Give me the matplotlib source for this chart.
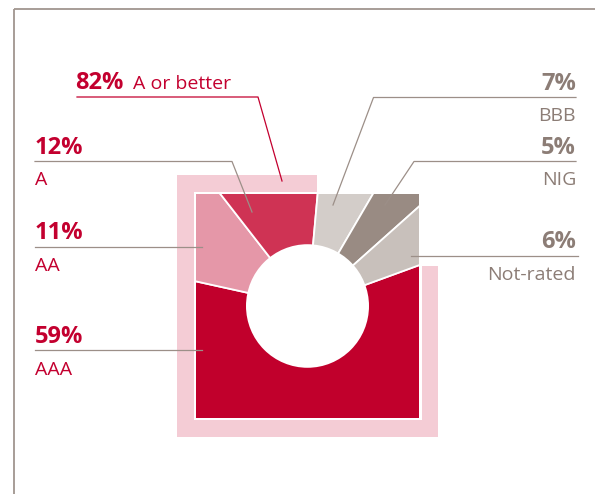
import numpy as np
import matplotlib
matplotlib.use("Agg")
import matplotlib.pyplot as plt
from matplotlib.patches import Polygon, Rectangle, Circle

# Daten: Rating-Verteilung
ratings = ["AAA", "AA", "A", "BBB", "NIG", "Not-rated"]
shares = [59, 11, 12, 7, 5, 6]
colors = ["#C1002C", "#E597A8", "#CF3354", "#D3CDC9", "#998B83", "#C8C0BB"]

group_label = "A or better"
group_share = 82

RED = "#C3002F"
GREY = "#8C7D76"
LINE_GREY = "#9C8F88"
PINK = "#F4CCD5"

W, H = 595, 494
fig = plt.figure(figsize=(W / 100, H / 100), dpi=100)

# Hintergrund-Achse in Pixelkoordinaten
ax0 = fig.add_axes([0, 0, 1, 1])
ax0.set_xlim(0, W)
ax0.set_ylim(H, 0)
ax0.axis("off")

# L-foermige rosa Flaeche hinter "A or better"
ax0.add_patch(Polygon([(177, 175), (317, 175), (317, 266), (438, 266),
                       (438, 437), (177, 437)], closed=True,
                      facecolor=PINK, edgecolor="none"))
ax0.add_patch(Rectangle((193.5, 191.5), 228, 228, facecolor="white",
                        edgecolor="none"))

# Rahmenlinien
ax0.plot([14, 14], [9, H], color="#A0958F", lw=1.3, solid_capstyle="butt")
ax0.plot([14, W], [9, 9], color="#A0958F", lw=1.3, solid_capstyle="butt")

# Quadratischer "Kuchen"
x0, x1, y0, y1 = 196, 419, 194, 418
axp = fig.add_axes([x0 / W, 1 - y1 / H, (x1 - x0) / W, (y1 - y0) / H])
wedges, _ = axp.pie(shares, colors=colors, startangle=20, counterclock=False,
                    radius=1.6, wedgeprops=dict(edgecolor="white", linewidth=1.3))
axp.set_xlim(-1, 1)
axp.set_ylim(-1, 1)
axp.set_aspect("auto")
axp.axis("off")
for w in wedges:
    w.set_clip_on(True)
    w.set_clip_path(axp.patch)
axp.add_patch(Circle((0, 0), 61.5 / 111.5, facecolor="white", edgecolor="none",
                     zorder=5))

# Obere Achse fuer Linien und Texte
ax1 = fig.add_axes([0, 0, 1, 1])
ax1.set_xlim(0, W)
ax1.set_ylim(H, 0)
ax1.axis("off")
ax1.patch.set_alpha(0)

fp = "Open Sans"
pct_kw = dict(fontsize=17, fontweight="bold", family=fp, va="baseline")
lab_kw = dict(fontsize=14, fontweight="medium", family=fp, va="baseline")

# Gruppe "A or better"
ax1.text(75, 89, f"{group_share}%", color=RED, ha="left", **pct_kw)
ax1.text(133, 89, group_label, color=RED, ha="left", **lab_kw)
ax1.plot([77, 258, 282], [97, 97, 181], color=RED, lw=0.9)

# Linke Beschriftungen (A, AA, AAA)
left = {"A": (154, 185, [35, 232, 252], [161.5, 161.5, 212]),
        "AA": (239, 270.5, [35, 202], [247, 247]),
        "AAA": (343, 375, [35, 202], [350, 350])}
for name, (yp, yl, lx, ly) in left.items():
    i = ratings.index(name)
    ax1.text(35, yp, f"{shares[i]}%", color=RED, ha="left", **pct_kw)
    ax1.text(35, yl, name, color=RED, ha="left", **lab_kw)
    ax1.plot(lx, ly, color=LINE_GREY, lw=0.9)

# Rechte Beschriftungen (BBB, NIG, Not-rated)
right = {"BBB": (90, 120.5, [576, 373.5, 333], [97.5, 97.5, 205]),
         "NIG": (154, 185, [576, 414, 385], [161.5, 161.5, 205]),
         "Not-rated": (248, 280, [578, 410.5], [256, 256])}
for name, (yp, yl, lx, ly) in right.items():
    i = ratings.index(name)
    ax1.text(576, yp, f"{shares[i]}%", color=GREY, ha="right", **pct_kw)
    ax1.text(576, yl, name, color=GREY, ha="right", **lab_kw)
    ax1.plot(lx, ly, color=LINE_GREY, lw=0.9)

fig.savefig("out.png", dpi=100)
